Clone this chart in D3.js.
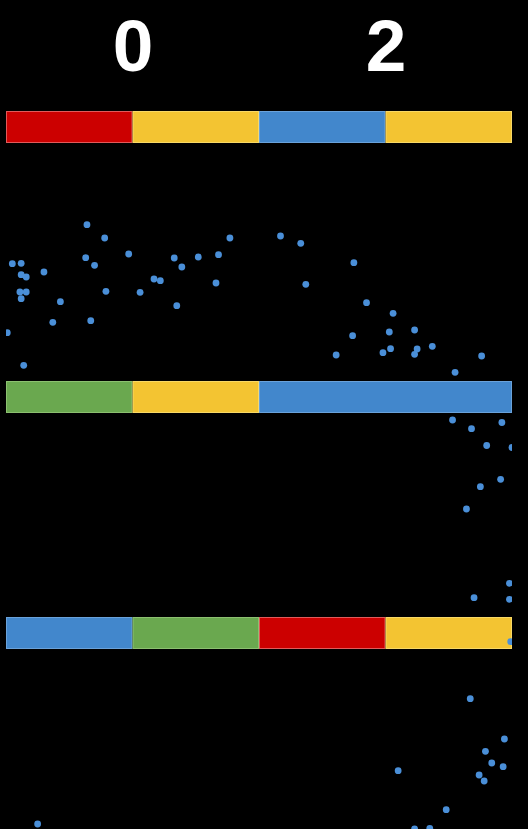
<!DOCTYPE html>
<html>
<head>
<meta charset="utf-8">
<script src="https://cdn.jsdelivr.net/npm/d3@7"></script>
<style>
  html, body { margin: 0; padding: 0; background: #000; }
  svg { display: block; }
</style>
</head>
<body>
<script>
// ---- data ----
const tickLabels = [0, 2];
const row1Starts = [-1, 0, 1, 2], row1Widths = [1, 1, 1, 1];
const row1Colors = ["red", "yellow", "blue", "yellow"];
const row2Starts = [-1, 0, 1],    row2Widths = [1, 1, 2];
const row2Colors = ["green", "yellow", "blue"];
const row3Starts = [-1, 0, 1, 2], row3Widths = [1, 1, 1, 1];
const row3Colors = ["blue", "green", "red", "yellow"];
const rowY = [1.27, 3.97, 6.33];            // centre of each band (y units)
const pointX = [-0.36,-0.22,-0.95,-0.88,-0.37,-0.03,-0.30,-0.70,-0.88,-0.84,
  0.33,0.52,0.68,0.77,0.39,0.17,0.22,-0.89,-0.84,-0.88,
  -0.21,0.06,0.66,-0.57,0.35,-0.63,-0.33,-0.99,-0.86,1.17,
  1.33,1.75,1.37,1.85,2.06,2.23,2.03,1.74,2.37,2.25,
  2.04,1.98,2.23,1.61,2.76,2.55,2.53,2.68,2.92,2.80,
  3.00,2.91,2.75,2.64,2.98,2.70,2.98,2.99,2.67,2.94,
  2.79,2.84,2.93,2.10,2.74,2.78,2.48,2.23,2.35,-0.75];
const pointY = [2.247,2.380,2.637,2.633,2.577,2.540,2.653,2.720,2.747,2.770,
  2.580,2.570,2.547,2.380,2.670,2.790,2.807,2.920,2.920,2.987,
  2.913,2.923,2.830,3.017,3.057,3.223,3.207,3.327,3.653,2.360,
  2.433,2.627,2.843,3.027,3.133,3.300,3.320,3.357,3.463,3.490,
  3.487,3.527,3.543,3.550,3.560,3.723,4.200,4.287,4.225,4.455,
  4.475,4.793,4.867,5.090,5.833,5.977,5.993,6.417,6.987,7.390,
  7.513,7.630,7.667,7.707,7.750,7.810,8.097,8.290,8.283,8.240];

// ---- styles ----
const W = 528, H = 829;
const palette = { red: "#CC0000", yellow: "#F3C432", blue: "#4287CC", green: "#6AA84F" };
const edge = { red: "#E05A5A", yellow: "#F8D866", blue: "#6AA2DA", green: "#8CC070" };

const x = d3.scaleLinear().domain([-1, 3]).range([6, 512]);
const y = d3.scaleLinear().domain([0, 8.29]).range([0, 829]);
const bandH = 32;

const svg = d3.select("body").append("svg").attr("width", W).attr("height", H);
svg.append("rect").attr("width", W).attr("height", H).attr("fill", "#000");

svg.append("defs").append("clipPath").attr("id", "plot")
  .append("rect").attr("x", x(-1)).attr("y", 0).attr("width", x(3) - x(-1)).attr("height", H);

// top axis labels
const axis = d3.axisTop(x).tickValues(tickLabels).tickSize(0).tickFormat(d3.format("d"));
const gAxis = svg.append("g").attr("transform", "translate(0,71)").call(axis);
gAxis.select(".domain").remove();
gAxis.selectAll("text")
  .attr("dy", 0).attr("y", 0)
  .attr("fill", "#fff")
  .style("font-family", "'Liberation Sans', Arial, sans-serif")
  .style("font-weight", "bold")
  .style("font-size", "73px");

// bands
const rows = [
  { starts: row1Starts, widths: row1Widths, colors: row1Colors },
  { starts: row2Starts, widths: row2Widths, colors: row2Colors },
  { starts: row3Starts, widths: row3Widths, colors: row3Colors }
];
rows.forEach((r, i) => {
  const g = svg.append("g");
  g.selectAll("rect").data(r.starts.map((s, j) => ({ s, w: r.widths[j], c: r.colors[j] })))
    .join("rect")
    .attr("x", d => x(d.s) + 0.5)
    .attr("y", y(rowY[i]) - bandH / 2 + 0.5)
    .attr("width", d => x(d.s + d.w) - x(d.s) - 1)
    .attr("height", bandH - 1)
    .attr("fill", d => palette[d.c])
    .attr("stroke", d => edge[d.c])
    .attr("stroke-width", 1);
});

// scatter
svg.append("g").attr("clip-path", "url(#plot)")
  .selectAll("circle").data(pointX.map((v, i) => [v, pointY[i]]))
  .join("circle")
  .attr("cx", d => x(d[0]))
  .attr("cy", d => y(d[1]))
  .attr("r", 3.4)
  .attr("fill", "#4A8FD8");
</script>
</body>
</html>
